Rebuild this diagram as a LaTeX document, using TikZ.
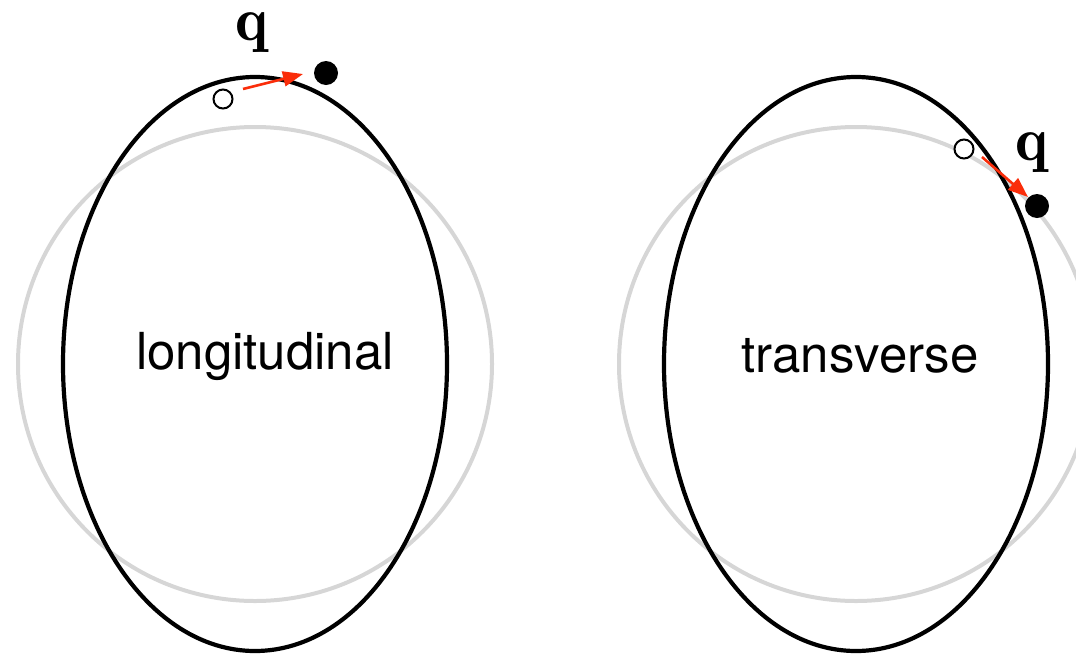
\documentclass[tikz,border=0pt]{standalone}
\usepackage{fontspec}
\newfontfamily\herosfont{TeX Gyre Heros}
\usetikzlibrary{arrows.meta}
\definecolor{ringgray}{RGB}{214,214,214}
\definecolor{arrred}{RGB}{250,45,10}
\begin{document}
\begin{tikzpicture}[x=1pt,y=-1pt,
  ring/.style={draw=ringgray,line width=4pt},
  shell/.style={draw=black,line width=4.2pt},
  opendot/.style={circle,draw=black,fill=white,line width=2pt,minimum size=19pt,inner sep=0pt},
  fulldot/.style={circle,fill=black,minimum size=24pt,inner sep=0pt},
  qlabel/.style={font=\fontsize{62}{70}\selectfont,anchor=base,inner sep=0pt},
  mover/.style={draw=arrred,line width=2.6pt,-{Triangle[length=20pt,width=15pt]}},
  modelname/.style={font=\herosfont\fontsize{51}{60}\selectfont}]
\useasboundingbox (0,0) rectangle (1076,654);
% left
\draw[ring] (255,364) circle[radius=237];
\draw[shell] (255,364) ellipse[x radius=192,y radius=287];
\node[modelname] (lt) at (265,356) {longitudinal};
\node[opendot] (lo) at (223,99) {};
\node[fulldot] (lf) at (326,73) {};
\node[qlabel] (lq) at (252,40) {$\mathbf{q}$};
\coordinate (la) at (243,89);
\coordinate (lb) at (303,74);
\draw[mover] (la) -- (lb);
% right
\draw[ring] (856,364) circle[radius=237];
\draw[shell] (856,364) ellipse[x radius=192,y radius=287];
\node[modelname] (rt) at (860,356) {transverse};
\node[opendot] (ro) at (964,149) {};
\node[fulldot] (rf) at (1037,206) {};
\node[qlabel] (rq) at (1032,160) {$\mathbf{q}$};
\coordinate (ra) at (982,157);
\coordinate (rb) at (1028,197);
\draw[mover] (ra) -- (rb);
\end{tikzpicture}
\end{document}
